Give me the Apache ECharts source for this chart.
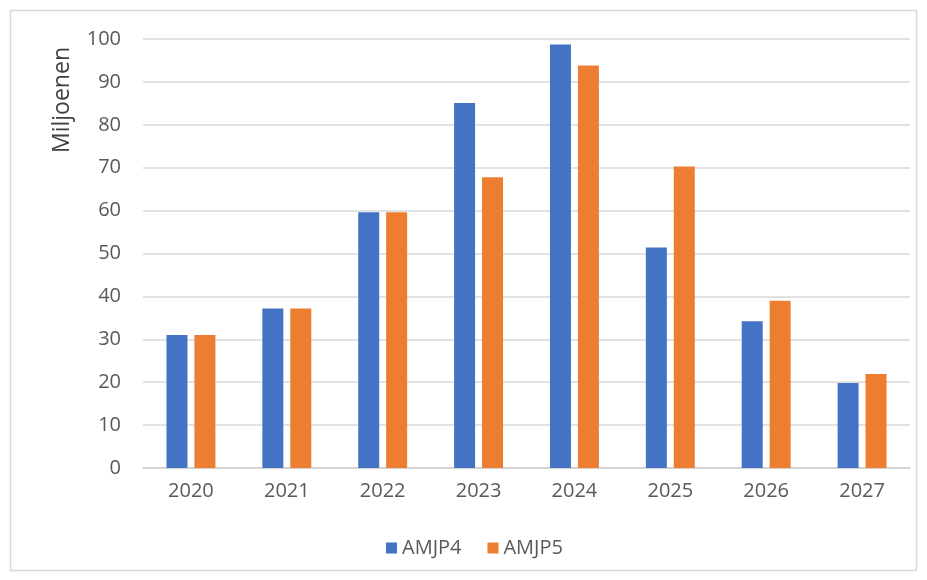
<!DOCTYPE html>
<html><head><meta charset="utf-8">
<script src="https://cdn.jsdelivr.net/npm/echarts@6/dist/echarts.min.js"></script>
<style>html,body{margin:0;padding:0;background:#fff}#c{width:927px;height:580px}</style>
</head><body><div id="c"></div>
<script>
const categories = ['2020','2021','2022','2023','2024','2025','2026','2027'];
const amjp4 = [31.0, 37.2, 59.6, 85.1, 98.7, 51.4, 34.2, 19.8];
const amjp5 = [31.0, 37.2, 59.6, 67.8, 93.8, 70.3, 39.0, 21.9];
const yTicks = {min: 0, max: 100, interval: 10};
const chart = echarts.init(document.getElementById('c'));
const txt = '#595959';
const font = '"Open Sans", "Noto Sans", sans-serif';
chart.setOption({
  animation: false,
  textStyle: {fontFamily: font},
  graphic: [
    {type: 'rect', shape: {x: 10.5, y: 10.5, width: 906, height: 560}, style: {fill: 'none', stroke: '#d9d9d9', lineWidth: 1.5}, z: -1},
    {type: 'text', x: 62, y: 100, rotation: Math.PI/2, style: {text: 'Miljoenen', fill: '#404040', font: '23px ' + font, align: 'center', verticalAlign: 'middle'}}
  ],
  grid: {left: 143, right: 17, top: 39, bottom: 112, containLabel: false},
  legend: {
    bottom: 17, left: 381, itemWidth: 11, itemHeight: 11, itemGap: 26, icon: 'rect',
    textStyle: {color: txt, fontSize: 20, fontFamily: font}
  },
  xAxis: {
    type: 'category', data: categories,
    axisLine: {lineStyle: {color: '#d0d0d0', width: 1.5}},
    axisTick: {show: false},
    axisLabel: {color: txt, fontSize: 20, margin: 13, fontFamily: font}
  },
  yAxis: {
    type: 'value', min: yTicks.min, max: yTicks.max, interval: yTicks.interval,
    axisLine: {show: false}, axisTick: {show: false},
    axisLabel: {color: txt, fontSize: 20, margin: 22, fontFamily: font},
    splitLine: {lineStyle: {color: '#d9d9d9', width: 1.5}}
  },
  series: [
    {name: 'AMJP4', type: 'bar', data: amjp4, barWidth: 21, barGap: '33%', itemStyle: {color: '#4472c4'}},
    {name: 'AMJP5', type: 'bar', data: amjp5, barWidth: 21, itemStyle: {color: '#ed7d31'}}
  ]
});
</script></body></html>
